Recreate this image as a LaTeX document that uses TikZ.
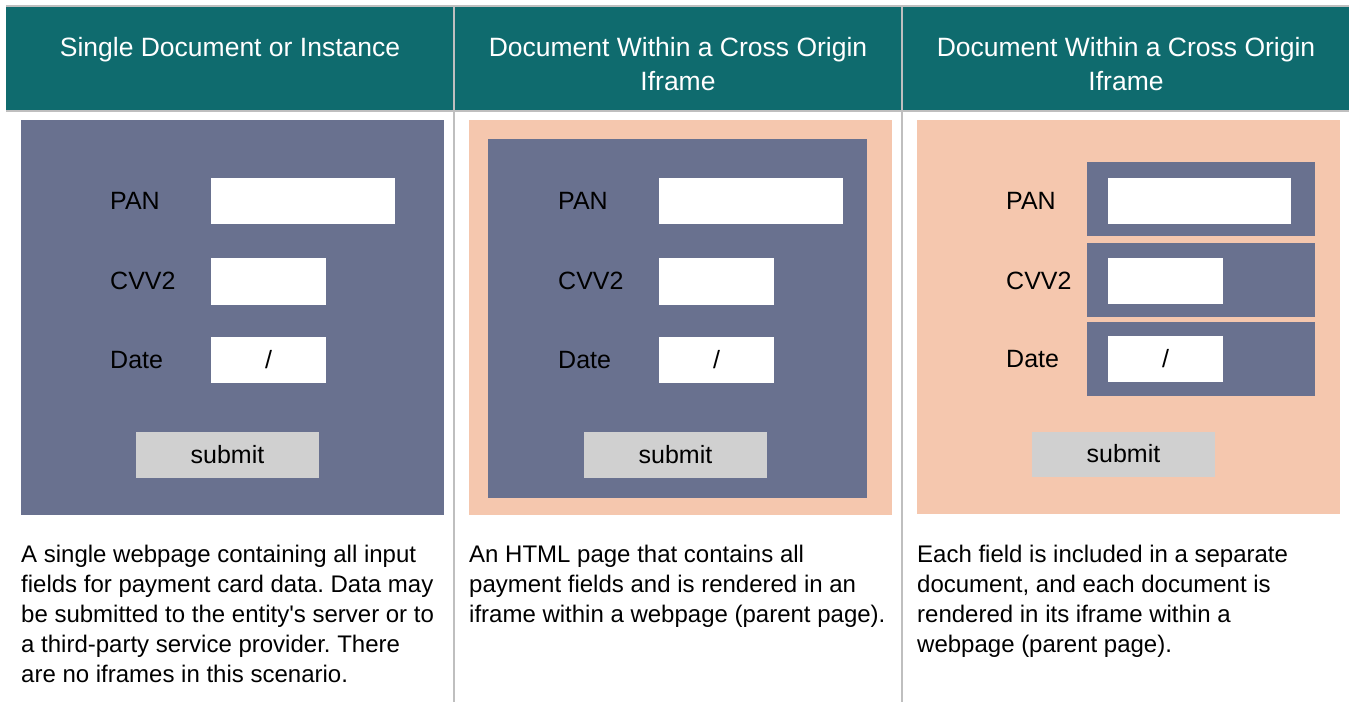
\documentclass[tikz,border=0pt]{standalone}
\usepackage{fontspec}
\setmainfont{Liberation Sans}
\frenchspacing
\definecolor{hdrteal}{HTML}{0F6B6E}
\definecolor{formblue}{HTML}{69718F}
\definecolor{pagepeach}{HTML}{F5C7AE}
\definecolor{btngray}{HTML}{D0D0D0}
\definecolor{rulegray}{HTML}{BFBFBF}
\tikzset{
  hdrtext/.style={text=white, font=\fontsize{26.5}{34}\selectfont, align=center, anchor=north, inner sep=0pt},
  lbl/.style={font=\fontsize{25}{30}\selectfont, anchor=west, inner sep=0pt},
  btntext/.style={font=\fontsize{25}{30}\selectfont, inner sep=0pt},
  desc/.style={font=\fontsize{24}{30}\selectfont, align=left, anchor=north west, inner sep=0pt},
  gridline/.style={draw=rulegray, line width=1.6pt},
}
\begin{document}
\begin{tikzpicture}[x=1pt, y=-1pt]
\useasboundingbox (0,0) rectangle (1349,702);
\fill[white] (0,0) rectangle (1349,702);

% header band and table rules
\fill[hdrteal] (6,6) rectangle (1349,111);
\draw[gridline] (6,6) -- (1349,6);
\draw[gridline] (6,111) -- (1349,111);
\draw[gridline] (454,6) -- (454,702);
\draw[gridline] (902,6) -- (902,702);

% column headings
\node[hdrtext] (h1) at (230,37) {Single Document or Instance};
\node[hdrtext] (h2) at (678,37) {Document Within a Cross Origin\\Iframe};
\node[hdrtext] (h3) at (1126,37) {Document Within a Cross Origin\\Iframe};

% ---------- column 1: single document ----------
\fill[formblue] (21,120) rectangle (444,515);
\fill[white] (211,178) rectangle (395,224);
\fill[white] (211,258) rectangle (326,305);
\fill[white] (211,337) rectangle (326,383);
\fill[btngray] (136,432) rectangle (319,478);
\node[lbl] (pan1) at (110,201) {PAN};
\node[lbl] (cvv1) at (110,281) {CVV2};
\node[lbl] (date1) at (110,360) {Date};
\node[btntext] (sl1) at (268.5,360) {/};
\node[btntext] (sub1) at (227.5,455) {submit};

% ---------- column 2: one iframe inside a parent page ----------
\fill[pagepeach] (469,120) rectangle (892,515);
\fill[formblue] (488,139) rectangle (867,498);
\fill[white] (659,178) rectangle (843,224);
\fill[white] (659,258) rectangle (774,305);
\fill[white] (659,337) rectangle (774,383);
\fill[btngray] (584,432) rectangle (767,478);
\node[lbl] (pan2) at (558,201) {PAN};
\node[lbl] (cvv2) at (558,281) {CVV2};
\node[lbl] (date2) at (558,360) {Date};
\node[btntext] (sl2) at (716.5,360) {/};
\node[btntext] (sub2) at (675.5,455) {submit};

% ---------- column 3: one iframe per field ----------
\fill[pagepeach] (917,120) rectangle (1340,514);
\fill[formblue] (1087,162) rectangle (1315,236);
\fill[formblue] (1087,243) rectangle (1315,317);
\fill[formblue] (1087,322) rectangle (1315,396);
\fill[white] (1108,178) rectangle (1291,224);
\fill[white] (1108,258) rectangle (1223,304);
\fill[white] (1108,336) rectangle (1223,382);
\fill[btngray] (1032,432) rectangle (1215,477);
\node[lbl] (pan3) at (1006,201) {PAN};
\node[lbl] (cvv3) at (1006,281) {CVV2};
\node[lbl] (date3) at (1006,359) {Date};
\node[btntext] (sl3) at (1165.5,359) {/};
\node[btntext] (sub3) at (1123.5,454) {submit};

% descriptions
\node[desc] (d1) at (21,545) {A single webpage containing all input\\fields for payment card data. Data may\\be submitted to the entity\textquotesingle s server or to\\a third-party service provider. There\\are no iframes in this scenario.};
\node[desc] (d2) at (469,545) {An HTML page that contains all\\payment fields and is rendered in an\\iframe within a webpage (parent page).};
\node[desc] (d3) at (917,545) {Each field is included in a separate\\document, and each document is\\rendered in its iframe within a\\webpage (parent page).};
\end{tikzpicture}
\end{document}
